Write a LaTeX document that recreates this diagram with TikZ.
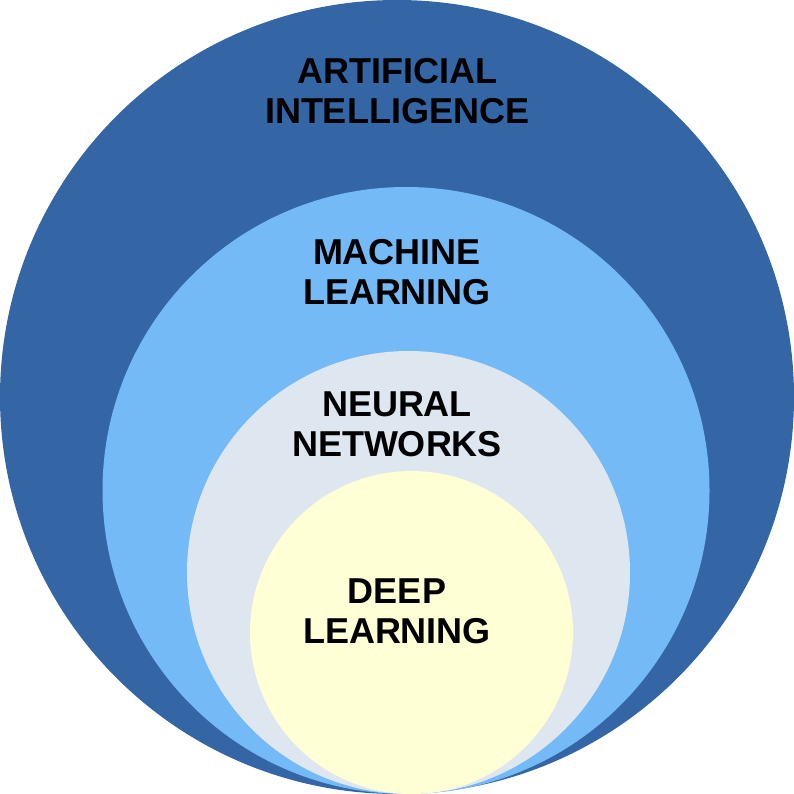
\documentclass[tikz,border=0pt]{standalone}
\usepackage{fontspec}
\setmainfont{Liberation Sans}
\definecolor{aiblue}{RGB}{52,101,164}
\definecolor{mlblue}{RGB}{116,186,247}
\definecolor{nngray}{RGB}{222,230,240}
\definecolor{dlyellow}{RGB}{255,255,213}
\begin{document}
\begin{tikzpicture}[x=1pt,y=-1pt,
  ring/.style={draw=none},
  lbl/.style={align=center,inner sep=0pt,font=\fontsize{36}{40}\selectfont\bfseries,text=black}]
\useasboundingbox (0,0) rectangle (794,794);
\fill[aiblue] (397,397) circle[radius=397pt];
\fill[mlblue] (406,490.5) circle[radius=303.5pt];
\fill[nngray] (408.5,572.5) circle[radius=221.5pt];
\fill[dlyellow] (411.5,632.5) circle[radius=161.5pt];
\node[lbl] (ai) at (397,91) {ARTIFICIAL\\INTELLIGENCE};
\node[lbl] (ml) at (397,272.5) {MACHINE\\LEARNING};
\node[lbl] (nn) at (397,424.5) {NEURAL\\NETWORKS};
\node[lbl] (dl) at (397,611.5) {DEEP\\LEARNING};
\end{tikzpicture}
\end{document}
